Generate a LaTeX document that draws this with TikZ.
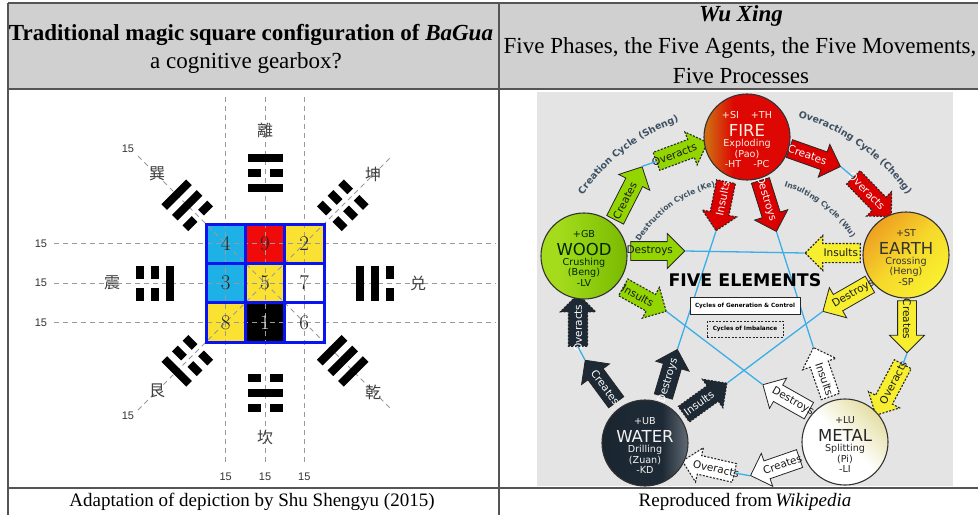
\documentclass[tikz,border=0pt]{standalone}
\usepackage{fontspec}
\usetikzlibrary{shapes.arrows,decorations.text}
\newfontfamily\tnr{Liberation Serif}
\newfontfamily\dvs{DejaVu Sans}
\newfontfamily\cjk{Noto Sans CJK SC}
\newfontfamily\lsans{Liberation Sans}

\definecolor{hdrgray}{HTML}{D0D0D0}
\definecolor{rulecol}{HTML}{555555}
\definecolor{guidecol}{HTML}{9A9A9A}
\definecolor{sqblue}{HTML}{0A14F0}
\definecolor{sqcyan}{HTML}{1DB1E8}
\definecolor{sqyellow}{HTML}{FBE232}
\definecolor{sqred}{HTML}{F00A0A}
\definecolor{wikibg}{HTML}{E4E4E4}
\definecolor{cycleline}{HTML}{3AAEE8}
\definecolor{slate}{HTML}{3E5163}
\definecolor{woodA}{HTML}{93D500}
\definecolor{fireA}{HTML}{DA0000}
\definecolor{earthA}{HTML}{F6EE2E}
\definecolor{waterA}{HTML}{1D2934}
\definecolor{metalA}{HTML}{FFFFFF}
\definecolor{fireOr}{HTML}{CF6A10}
\definecolor{fireRed}{HTML}{DD0703}
\definecolor{woodLt}{HTML}{A4DC1C}
\definecolor{woodDk}{HTML}{78BA00}
\definecolor{earthOr}{HTML}{EEA021}
\definecolor{earthYe}{HTML}{F9F02F}
\definecolor{waterDk}{HTML}{141E28}
\definecolor{waterGr}{HTML}{66707A}
\definecolor{metalYe}{HTML}{E4DEA4}

% disc shadings (the 25bp..75bp band spans the disc)
\pgfdeclarehorizontalshading{fireshade}{100bp}{color(0bp)=(fireOr); color(27bp)=(fireOr); color(42bp)=(fireRed); color(100bp)=(fireRed)}
\pgfdeclarehorizontalshading{woodshade}{100bp}{color(0bp)=(woodLt); color(35bp)=(woodLt); color(75bp)=(woodDk); color(100bp)=(woodDk)}
\pgfdeclarehorizontalshading{watershade}{100bp}{color(0bp)=(waterDk); color(45bp)=(waterA); color(60bp)=(waterA); color(76bp)=(waterGr); color(100bp)=(waterGr)}

% one trigram line: solid (yang) or broken (yin), local y offset
\newcommand{\yang}[1]{\fill (-17.5,#1-4) rectangle (17.5,#1+4);}
\newcommand{\yin}[1]{\fill (-17.5,#1-4) rectangle (-4.5,#1+4); \fill (4.5,#1-4) rectangle (17.5,#1+4);}
% trigram: centre, rotation, inner / middle / outer line
\newcommand{\trigram}[5]{\begin{scope}[shift={#1},rotate=#2]#3{15}#4{0}#5{-15}\end{scope}}

% fat labelled arrow: style, name, tail x, tail y, tip x, tip y, text, text style
\newcommand{\fatarrow}[8]{%
  \pgfmathsetmacro{\faAng}{atan2(#4-#6,#5-#3)}%
  \pgfmathsetmacro{\faLen}{veclen(#5-#3,#6-#4)}%
  \pgfmathsetmacro{\faTxt}{ifthenelse(\faAng>90,\faAng-180,ifthenelse(\faAng<-90,\faAng+180,\faAng))}%
  \node[fatarr,#1,rotate=\faAng,minimum height=\faLen pt] (#2) at ({(#3+#5)/2},{(#4+#6)/2}) {};%
  \node[arrtext,#8,rotate=\faTxt] (#2-t) at ({#3+0.44*(#5-#3)},{#4+0.44*(#6-#4)}) {#7};%
}

% element disc: name, centre, fill style, text colour, five text lines
\newcommand{\element}[9]{%
  \node[element,#3] (#1) at #2 {};%
  \node[eltext,text=#4,yshift=22pt] (#1-a) at #2 {#5};%
  \node[elbig,text=#4,yshift=7pt] (#1-b) at #2 {#6};%
  \node[eltext,text=#4,yshift=-7pt] (#1-c) at #2 {#7};%
  \node[eltext,text=#4,yshift=-17pt] (#1-d) at #2 {#8};%
  \node[eltext,text=#4,yshift=-27pt] (#1-e) at #2 {#9};%
}

\newcommand{\cyclefont}{\dvs\bfseries\fontsize{9.5}{9.5}\selectfont}
\newcommand{\innercyclefont}{\dvs\bfseries\fontsize{7.6}{7.6}\selectfont}

\begin{document}
\begin{tikzpicture}[x=1pt,y=-1pt,
  gridline/.style={draw=guidecol,line width=0.9pt,dash pattern=on 5pt off 4pt},
  tabrule/.style={draw=rulecol,line width=1.5pt},
  fifteen/.style={font=\lsans\fontsize{11}{11}\selectfont,text=black!80,inner sep=0pt},
  guaname/.style={font=\cjk\fontsize{16}{16}\selectfont,text=black!75,inner sep=0pt},
  cellnum/.style={font=\fontsize{21}{21}\selectfont,text=black!85,inner sep=0pt},
  hdrfont/.style={font=\tnr\fontsize{23}{23}\selectfont,inner sep=0pt},
  capfont/.style={font=\tnr\fontsize{19}{19}\selectfont,inner sep=0pt},
  fatarr/.style={single arrow,draw=black!85,line width=0.8pt,inner xsep=0pt,inner ysep=9pt,
    single arrow head extend=8pt,anchor=center},
  dashedarr/.style={dash pattern=on 2pt off 1.5pt,line width=1.1pt},
  arrtext/.style={font=\dvs\fontsize{10.5}{10.5}\selectfont,inner sep=0pt},
  darktext/.style={text=black!90},
  lighttext/.style={text=white},
  element/.style={circle,draw=black!80,line width=1.1pt,minimum size=86pt,inner sep=0pt},
  eltext/.style={font=\dvs\fontsize{9.6}{9.6}\selectfont,inner sep=0pt},
  elbig/.style={font=\dvs\fontsize{16.5}{16.5}\selectfont,inner sep=0pt},
  conn/.style={draw=cycleline,line width=1.3pt},
  woodfill/.style={shading=woodshade},
  firefill/.style={shading=fireshade},
  earthfill/.style={top color=earthOr,bottom color=earthYe,middle color=earthYe!70!earthOr,shading angle=45},
  waterfill/.style={shading=watershade},
  metalfill/.style={top color=metalYe,bottom color=white,middle color=white,shading angle=-45},
]
\useasboundingbox (0,0) rectangle (978,515);
\fill[white] (0,0) rectangle (978,515);

% ---------------- table frame ----------------
\fill[hdrgray] (8,3) rectangle (978,89);
\draw[tabrule] (8,3) -- (978,3);
\draw[tabrule] (8,3) -- (8,515);
\draw[tabrule] (499,3) -- (499,515);
\draw[tabrule] (8,89) -- (978,89);
\draw[tabrule] (8,488) -- (978,488);

\node[hdrfont] (hdrL1) at (251,35) {\bfseries Traditional magic square configuration of \textit{BaGua}};
\node[hdrfont] (hdrL2) at (246,63) {a cognitive gearbox?};
\node[hdrfont] (hdrR1) at (741,16) {\bfseries\itshape Wu Xing};
\node[hdrfont] (hdrR2) at (740,48) {Five Phases, the Five Agents, the Five Movements,};
\node[hdrfont] (hdrR3) at (741,76) {Five Processes};

\node[capfont] (capL) at (252,502) {Adaptation of depiction by Shu Shengyu (2015)};
\node[capfont] (capR) at (745,502) {Reproduced from\,\textit{Wikipedia}};

% ---------------- BaGua: magic square ----------------
\fill[sqcyan]   (206,224) rectangle +(39.33,39.33);
\fill[sqred]    (245.33,224) rectangle +(39.33,39.33);
\fill[sqyellow] (284.67,224) rectangle +(39.33,39.33);
\fill[sqcyan]   (206,263.33) rectangle +(39.33,39.33);
\fill[sqyellow] (245.33,263.33) rectangle +(39.33,39.33);
\fill[sqyellow] (206,302.67) rectangle +(39.33,39.33);
\fill[black]    (245.33,302.67) rectangle +(39.33,39.33);

% guide lines
\foreach \gx in {225.7,265,304.3} \draw[gridline] (\gx,97) -- (\gx,464);
\foreach \gy in {243.7,283,322.3} \draw[gridline] (54,\gy) -- (496,\gy);
\draw[gridline] (138,156) -- (392,410);
\draw[gridline] (138,410) -- (392,156);

\draw[sqblue,line width=3pt] (206,224) rectangle (324,342);
\draw[sqblue,line width=3pt] (245.33,224) -- (245.33,342) (284.67,224) -- (284.67,342)
  (206,263.33) -- (324,263.33) (206,302.67) -- (324,302.67);

\node[cellnum] (n4) at (225.7,243.7) {4};
\node[cellnum] (n9) at (265,243.7) {9};
\node[cellnum] (n2) at (304.3,243.7) {2};
\node[cellnum] (n3) at (225.7,283) {3};
\node[cellnum] (n5) at (265,283) {5};
\node[cellnum] (n7) at (304.3,283) {7};
\node[cellnum] (n8) at (225.7,322.3) {8};
\node[cellnum,text=white!85!black] (n1) at (265,322.3) {1};
\node[cellnum] (n6) at (304.3,322.3) {6};

% trigrams
\trigram{(265,173)}{0}{\yang}{\yin}{\yang}
\trigram{(265,393)}{180}{\yin}{\yang}{\yin}
\trigram{(155,283)}{90}{\yang}{\yin}{\yin}
\trigram{(375,283)}{-90}{\yang}{\yang}{\yin}
\trigram{(187.2,205.2)}{45}{\yin}{\yang}{\yang}
\trigram{(342.8,205.2)}{-45}{\yin}{\yin}{\yin}
\trigram{(187.2,360.8)}{135}{\yin}{\yin}{\yang}
\trigram{(342.8,360.8)}{-135}{\yang}{\yang}{\yang}

\node[guaname] (li)   at (265,130) {離};
\node[guaname] (kan)  at (265,437) {坎};
\node[guaname] (zhen) at (112,283) {震};
\node[guaname] (dui)  at (418,283) {兑};
\node[guaname] (xun)  at (157,174) {巽};
\node[guaname] (kun)  at (373,174) {坤};
\node[guaname] (gen)  at (157,391) {艮};
\node[guaname] (qian) at (373,392) {乾};

\node[fifteen] (fA) at (41,243.7) {15};
\node[fifteen] (fB) at (41,283) {15};
\node[fifteen] (fC) at (41,322.3) {15};
\node[fifteen] (fD) at (225.7,477) {15};
\node[fifteen] (fE) at (265,477) {15};
\node[fifteen] (fF) at (304.3,477) {15};
\node[fifteen] (fG) at (128,149) {15};
\node[fifteen] (fH) at (128,416) {15};

% ---------------- Wu Xing ----------------
\fill[wikibg] (537,92) rectangle (953,486);

% cycle captions along arcs
\path[decorate,decoration={text along path,text align=center,text color=slate,
  text={|\cyclefont|Creation Cycle (Sheng)}}]
  (745,307) ++(-155:197) arc[start angle=-155,end angle=-100,radius=197];
\path[decorate,decoration={text along path,text align=center,text color=slate,
  text={|\cyclefont|Overacting Cycle (Cheng)}}]
  (745,307) ++(-82:197) arc[start angle=-82,end angle=-27,radius=197];
\path[decorate,decoration={text along path,text align=center,text color=slate,
  text={|\innercyclefont|Destruction Cycle (Ke)}}]
  (745,307) ++(-156:124) arc[start angle=-156,end angle=-96,radius=124];
\path[decorate,decoration={text along path,text align=center,text color=slate,
  text={|\innercyclefont|Insulting Cycle (Wu)}}]
  (745,307) ++(-78:127) arc[start angle=-78,end angle=-27,radius=127];

% Wood
\fatarrow{fill=woodA}{wcre}{613}{224}{640}{171}{Creates}{darktext}
\fatarrow{fill=woodA,dashedarr}{wover}{652}{163}{703}{144}{Overacts}{darktext}
\fatarrow{fill=woodA}{wdes}{626}{251}{680}{251}{Destroys}{darktext}
\fatarrow{fill=woodA,dashedarr}{wins}{619}{285}{662}{309}{Insults}{darktext}
% Fire
\fatarrow{fill=fireA}{fcre}{785}{147}{836}{165}{Creates}{lighttext}
\fatarrow{fill=fireA,dashedarr}{fover}{850}{174}{888}{213}{Overacts}{lighttext}
\fatarrow{fill=fireA}{fdes}{759}{176}{775}{227}{Destroys}{lighttext}
\fatarrow{fill=fireA,dashedarr}{fins}{727}{177}{717}{226}{Insults}{lighttext}
% Earth
\fatarrow{fill=earthA}{ecre}{907}{296}{907}{348}{Creates}{darktext}
\fatarrow{fill=earthA,dashedarr}{eover}{905}{360}{878}{411}{Overacts}{darktext}
\fatarrow{fill=earthA,dashedarr}{eins}{865}{253}{810}{253}{Insults}{darktext}
\fatarrow{fill=earthA}{edes}{874}{282}{827}{309}{Destroys}{darktext}
% Metal
\fatarrow{fill=metalA}{mcre}{804}{457}{755}{474}{Creates}{darktext}
\fatarrow{fill=metalA,dashedarr}{mover}{739}{474}{687}{462}{Overacts}{darktext}
\fatarrow{fill=metalA}{mdes}{813}{413}{767}{387}{Destroys}{darktext}
\fatarrow{fill=metalA,dashedarr}{mins}{832}{401}{815}{352}{Insults}{darktext}
% Water
\fatarrow{fill=waterA}{tcre}{619}{406}{588}{364}{Creates}{lighttext}
\fatarrow{fill=waterA,dashedarr}{tover}{578}{351}{578}{299}{Overacts}{lighttext}
\fatarrow{fill=waterA}{tdes}{662}{401}{676}{354}{Destroys}{lighttext}
\fatarrow{fill=waterA,dashedarr}{tins}{680}{417}{723}{386}{Insults}{lighttext}

% generation cycle (pentagon)
\draw[conn] (wcre.tip) -- (wover.tail);
\draw[conn] (fcre.tip) -- (fover.tail);
\draw[conn] (ecre.tip) -- (eover.tail);
\draw[conn] (mcre.tip) -- (mover.tail);
\draw[conn] (tcre.tip) -- (tover.tail);
% control cycle (star)
\draw[conn] (wdes.tip) -- (eins.tip);
\draw[conn] (edes.tip) -- (tins.tip);
\draw[conn] (tdes.tip) -- (fins.tip);
\draw[conn] (fdes.tip) -- (mins.tip);
\draw[conn] (mdes.tip) -- (wins.tip);

% elements
\element{wood}{(584,256)}{woodfill}{black!85!green}{+GB}{WOOD}{Crushing}{(Beng)}{-LV}
\element{fire}{(747,137)}{firefill}{orange!12!white}{+SI\hspace{12pt}+TH}{FIRE}{Exploding}{(Pao)}{-HT\hspace{12pt}-PC}
\element{earth}{(906,255)}{earthfill}{black!80}{+ST}{EARTH}{Crossing}{(Heng)}{-SP}
\element{water}{(645,443)}{waterfill}{white!95!black}{+UB}{WATER}{Drilling}{(Zuan)}{-KD}
\element{metal}{(845,442)}{metalfill}{black!85}{+LU}{METAL}{Splitting}{(Pi)}{-LI}

% centre legend
\node[font=\dvs\bfseries\fontsize{17.4}{17.4}\selectfont,inner sep=0pt] (fiveel) at (745,280) {FIVE ELEMENTS};
\node[draw=black!85,line width=1pt,fill=white,minimum width=110,minimum height=17,inner sep=1pt,
  font=\dvs\bfseries\fontsize{5.75}{6}\selectfont] (genbox) at (745,306) {Cycles of Generation \& Control};
\node[draw=black!85,line width=1pt,dash pattern=on 2pt off 1.5pt,minimum width=76,minimum height=16,inner sep=1pt,
  font=\dvs\bfseries\fontsize{5.75}{6}\selectfont] (imbbox) at (745,329) {Cycles of Imbalance};
\end{tikzpicture}
\end{document}
